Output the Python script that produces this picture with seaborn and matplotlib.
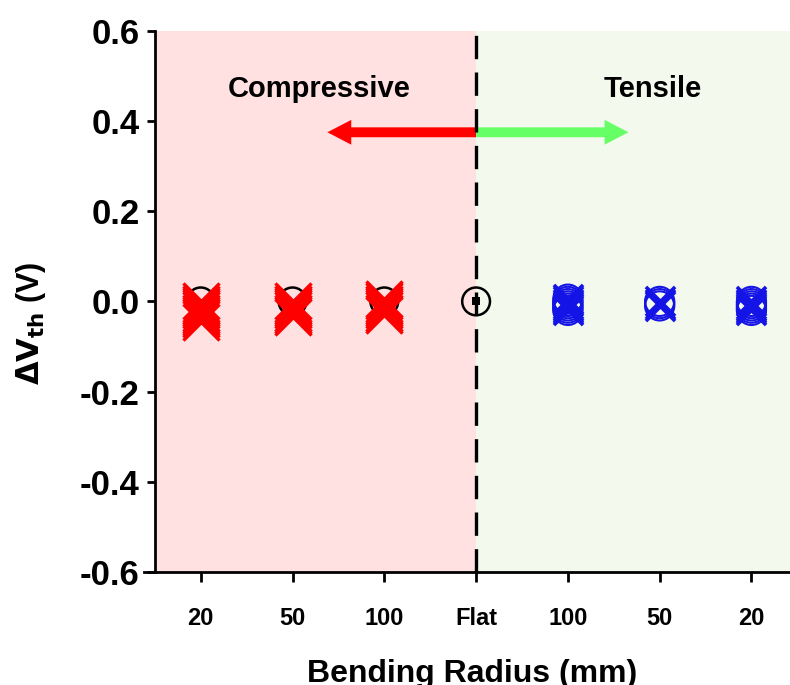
import matplotlib
matplotlib.use("Agg")
import matplotlib.pyplot as plt
from matplotlib.patches import FancyArrow
import pandas as pd
import seaborn as sns

# categories along x (left = compressive, right = tensile)
cats = ["c20", "c50", "c100", "flat", "t100", "t50", "t20"]
tick_labels = ["20", "50", "100", "Flat", "100", "50", "20"]

# delta Vth readings (V) per bending condition
comp_20 = [0.0, -0.005, -0.01, -0.015, -0.02, -0.025, -0.03, -0.035, -0.04, -0.045]
comp_50 = [0.0, -0.005, -0.01, -0.015, -0.02, -0.025, -0.03, -0.035]
comp_100 = [0.005, 0.0, -0.005, -0.01, -0.015, -0.02, -0.025, -0.03]
tens_100 = [0.005, 0.0, -0.005, -0.01, -0.015, -0.02]
tens_50 = [0.0, -0.005, -0.01]
tens_20 = [0.0, -0.005, -0.01, -0.015, -0.02]
ref_flat = [0.0]

def long_df(names, groups):
    rows = []
    for n, g in zip(names, groups):
        for v in g:
            rows.append({"cond": n, "dvth": v})
    return pd.DataFrame(rows)

comp_df = long_df(["c20", "c50", "c100"], [comp_20, comp_50, comp_100])
tens_df = long_df(["t100", "t50", "t20"], [tens_100, tens_50, tens_20])
ref_df = long_df(["c20", "c50", "c100", "flat"], [[0.0]] * 3 + [ref_flat])

sns.set_style("ticks", {"text.color": "black", "axes.labelcolor": "black",
                        "xtick.color": "black", "ytick.color": "black",
                        "axes.edgecolor": "black"})
plt.rcParams["font.family"] = ["Liberation Sans", "DejaVu Sans"]
plt.rcParams["font.weight"] = "bold"

fig = plt.figure(figsize=(7.9, 6.85), dpi=100)
ax = fig.add_axes([0.196, 0.165, 0.804, 0.790])

ax.axvspan(-0.5, 3, color="#FFE1E1", zorder=0, lw=0)
ax.axvspan(3, 6.42, color="#F4F9EE", zorder=0, lw=0)

sns.stripplot(data=ref_df, x="cond", y="dvth", order=cats, jitter=False,
              marker="o", size=20, color="none", edgecolor="black",
              linewidth=1.8, ax=ax, zorder=2)
sns.stripplot(data=comp_df, x="cond", y="dvth", order=cats, jitter=False,
              marker="x", size=26, color="red", linewidth=2.4, ax=ax, zorder=3)
sns.stripplot(data=tens_df, x="cond", y="dvth", order=cats, jitter=False,
              marker="o", size=21, color="none", edgecolor="#1414E6",
              linewidth=1.5, ax=ax, zorder=3)
sns.stripplot(data=tens_df, x="cond", y="dvth", order=cats, jitter=False,
              marker="x", size=21, color="#1414E6", linewidth=2.6, ax=ax, zorder=3)
sns.stripplot(data=ref_df[ref_df["cond"] == "flat"], x="cond", y="dvth",
              order=cats, jitter=False, marker="s", size=6, color="black",
              ax=ax, zorder=4)

ax.axvline(3, color="black", lw=2.4, ls=(0, (7, 4)), zorder=5)

# strain direction arrows
ax.add_patch(FancyArrow(3, 0.375, -1.62, 0, width=0.022, head_width=0.055,
                        head_length=0.26, length_includes_head=True,
                        color="#FF0000", lw=0, zorder=4))
ax.add_patch(FancyArrow(3, 0.375, 1.66, 0, width=0.022, head_width=0.055,
                        head_length=0.26, length_includes_head=True,
                        color="#66FF66", lw=0, zorder=4))
ax.text(1.29, 0.47, "Compressive", ha="center", va="center",
        fontsize=21, fontweight="bold")
ax.text(4.92, 0.47, "Tensile", ha="center", va="center",
        fontsize=21, fontweight="bold")

ax.set_xlim(-0.5, 6.42)
ax.set_ylim(-0.6, 0.6)
ax.set_yticks([-0.6, -0.4, -0.2, 0.0, 0.2, 0.4, 0.6])
ax.set_yticklabels(["-0.6", "-0.4", "-0.2", "0.0", "0.2", "0.4", "0.6"],
                   fontsize=25, fontweight="bold")
ax.set_xticks(range(len(cats)))
ax.set_xticklabels(tick_labels, fontsize=17, fontweight="bold")
ax.tick_params(axis="y", length=6, width=2, pad=5)
ax.tick_params(axis="x", length=7, width=2, pad=18)

for s in ["top", "right"]:
    ax.spines[s].set_visible(False)
ax.spines["left"].set_linewidth(2)
ax.spines["bottom"].set_linewidth(2)
ax.spines["bottom"].set_bounds(-0.62, 6.42)

ax.set_xlabel("Bending Radius (mm)", fontsize=23, fontweight="bold", labelpad=21)
ax.set_ylabel(r"$\mathbf{\Delta V_{th}}$ (V)", fontsize=22, fontweight="bold")
ax.yaxis.set_label_coords(-0.168, 0.46)

fig.savefig("out.png", dpi=100)
